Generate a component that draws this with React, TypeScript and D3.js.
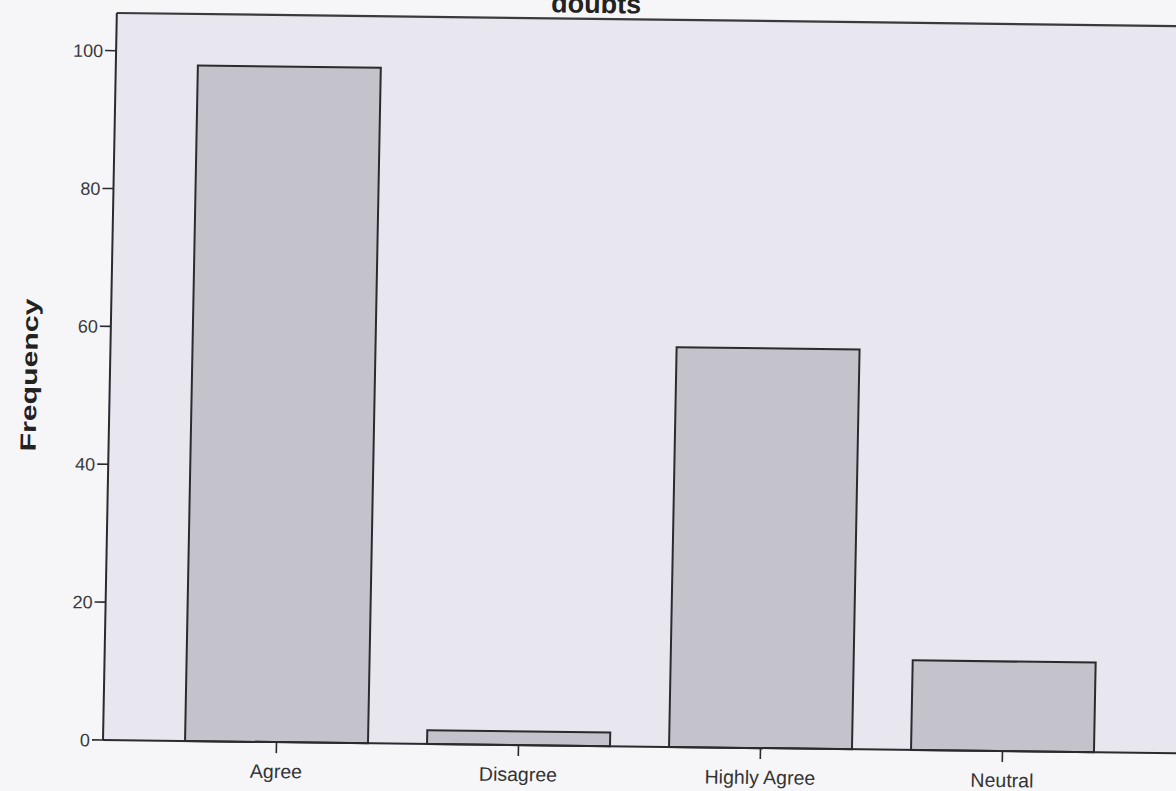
import React from "react";
import * as d3 from "d3";

const categories = ["Agree", "Disagree", "Highly Agree", "Neutral"];
const frequencies = [98, 2, 58, 13];
const yTicks = [0, 20, 40, 60, 80, 100];
const chartTitle = "doubts";
const yAxisLabel = "Frequency";

const W = 1176;
const H = 791;
// scan distortion (slight skew) of the original picture
const SKEW_B = 0.0123;
const SKEW_C = -0.019;
const ORIGIN_X = 103;
const ORIGIN_Y = 740;
const PLOT_W = 1073;
const PLOT_H = 727;

export default function App() {
  const x = d3
    .scaleBand<string>()
    .domain(categories)
    .range([0, PLOT_W])
    .paddingInner(0.244)
    .paddingOuter(0.339);
  const y = d3.scaleLinear().domain([0, 105.47]).range([0, -PLOT_H]);

  return (
    <svg
      width={W}
      height={H}
      style={{ position: "absolute", left: 0, top: 0, background: "#f6f6f8" }}
      fontFamily="'Liberation Sans', Arial, sans-serif"
    >
      <rect x={0} y={0} width={W} height={H} fill="#f6f6f8" />
      <g transform={`translate(${ORIGIN_X},${ORIGIN_Y}) matrix(1,${SKEW_B},${SKEW_C},1,0,0)`}>
        <rect x={0} y={-PLOT_H} width={PLOT_W + 20} height={PLOT_H} fill="#e8e6ee" />
        {categories.map((c, i) => (
          <rect
            key={c}
            x={x(c)}
            y={y(frequencies[i])}
            width={x.bandwidth()}
            height={-y(frequencies[i])}
            fill="#c4c2cb"
            stroke="#2b2b2e"
            strokeWidth={2}
          />
        ))}
        {/* frame */}
        <line x1={0} x2={PLOT_W + 20} y1={-PLOT_H} y2={-PLOT_H} stroke="#3a3a3e" strokeWidth={2.2} />
        <line x1={0} x2={0} y1={-PLOT_H} y2={0} stroke="#2b2b2e" strokeWidth={2} />
        <line x1={0} x2={PLOT_W + 20} y1={0} y2={0} stroke="#2b2b2e" strokeWidth={2} />
        {/* y ticks */}
        {yTicks.map((t) => (
          <g key={t} transform={`translate(0,${y(t)})`}>
            <line x1={-11} x2={0} stroke="#2b2b2e" strokeWidth={1.6} />
            <text x={-13} dy="0.36em" textAnchor="end" fontSize={18} fill="#3a3a3e">
              {t}
            </text>
          </g>
        ))}
        {/* x ticks */}
        {categories.map((c) => (
          <g key={c} transform={`translate(${(x(c) as number) + x.bandwidth() / 2},0)`}>
            <line y1={0} y2={11} stroke="#2b2b2e" strokeWidth={1.6} />
            <text y={36} textAnchor="middle" fontSize={19.5} fill="#333">
              {c}
            </text>
          </g>
        ))}
        <text
          transform="translate(-73,-364) rotate(-90)"
          textAnchor="middle"
          fontSize={22}
          fontWeight="bold"
          fill="#222"
          textLength={153}
          lengthAdjust="spacingAndGlyphs"
        >
          {yAxisLabel}
        </text>
        <text
          x={479}
          y={-733}
          textAnchor="middle"
          fontSize={27}
          fontWeight="bold"
          fill="#222"
        >
          {chartTitle}
        </text>
      </g>
    </svg>
  );
}
